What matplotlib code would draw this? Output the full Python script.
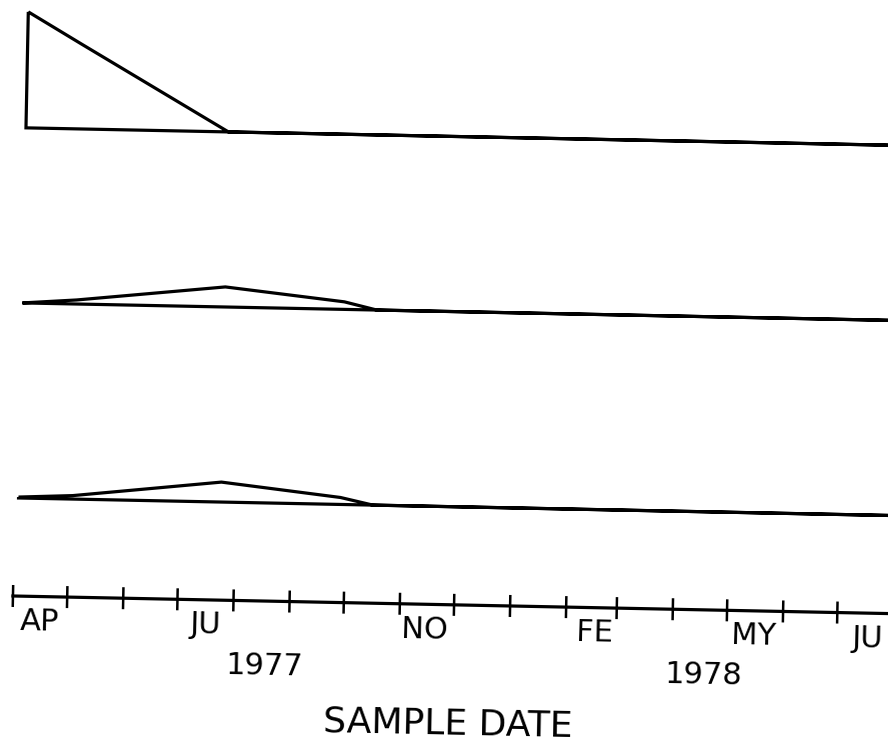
import numpy as np
import pandas as pd
import matplotlib
matplotlib.use('Agg')
import matplotlib.pyplot as plt
import matplotlib.dates as mdates
from matplotlib.transforms import Affine2D

#Data
sample_dates = ['1977-04-03', '1977-05-03', '1977-07-24', '1977-09-28',
                '1977-10-16', '1978-01-15', '1978-04-15', '1978-07-31']
series_a = [100, 73, 0, 0, 0, 0, 0, 0]
series_b = [0, 3.5, 17.3, 6.5, 0, 0, 0, 0]
series_c = [0.8, 3, 17.2, 6, 0, 0, 0, 0]

month_labels = ['AP', 'JU', 'NO', 'FE', 'MY', 'JU']
month_label_dates = ['1977-04-16', '1977-07-17', '1977-11-15',
                     '1978-02-17', '1978-05-16', '1978-07-18']
year_labels = ['1977', '1978']
year_label_dates = ['1977-08-19', '1978-04-19']

#Layout (rows measured from the top of the page)
row_a, row_b, row_c = 136.3, 311.4, 506.5
axis_row = 604.6
scale = 1.16
lw = 2.3

x = mdates.date2num(pd.to_datetime(sample_dates))
ticks = mdates.date2num(pd.date_range('1977-04-01', '1978-07-01', freq='MS'))
start = mdates.date2num(pd.Timestamp('1977-04-01'))

fig = plt.figure(figsize=(8.88, 7.44), dpi=100)
ax = fig.add_axes([0, 0, 1, 1])
ax.set_xlim(start - 9.7, start + 481.4)
ax.set_ylim(744, 0)
ax.axis('off')

# the scanned original is tilted a little clockwise
tr = ax.transData + Affine2D().rotate_deg_around(444, 372, -1.15)
tilt = -1.15

arts = []
for vals, row in [(series_a, row_a), (series_b, row_b), (series_c, row_c)]:
    upper = row - np.array(vals) * scale
    xs = np.r_[x, x[::-1]]
    ys = np.r_[upper, np.full(len(x), row)]
    arts += ax.fill(xs, ys, fill=False, edgecolor='black', linewidth=lw)

#Date axis
arts += ax.plot([ticks[0], x[-1]], [axis_row, axis_row], color='black', linewidth=lw)
arts.append(ax.vlines(ticks, axis_row - 11, axis_row + 11, color='black', linewidth=1.8))
for a in arts:
    a.set_transform(tr)

for lab, d in zip(month_labels, month_label_dates):
    ax.text(mdates.date2num(pd.Timestamp(d)), 630, lab, transform=tr,
            rotation=tilt, rotation_mode='anchor', ha='center', va='center',
            fontsize=22, family='DejaVu Sans')
for lab, d in zip(year_labels, year_label_dates):
    ax.text(mdates.date2num(pd.Timestamp(d)), 669.6, lab, transform=tr,
            rotation=tilt, rotation_mode='anchor', ha='center', va='center',
            fontsize=22, family='DejaVu Sans')
ax.text(start + (455 - 17.5) / 1.808, 723.4, 'SAMPLE DATE', transform=tr,
        rotation=tilt, rotation_mode='anchor', ha='center', va='center',
        fontsize=26, family='DejaVu Sans')

fig.savefig('out.png', dpi=100)
